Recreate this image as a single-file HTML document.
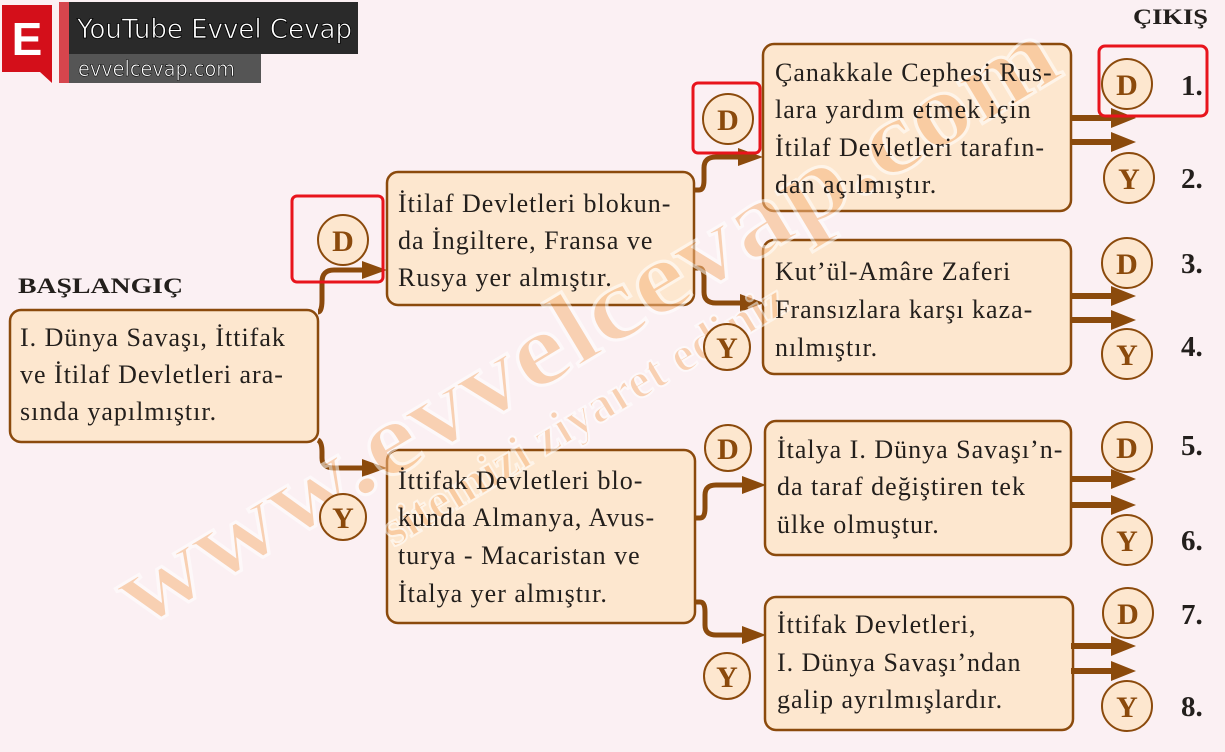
<!DOCTYPE html>
<html><head><meta charset="utf-8"><style>
html,body{margin:0;padding:0;background:#fbf0f3;}
svg{display:block}
.t{font-family:"Liberation Serif",serif;font-size:26px;letter-spacing:1px;fill:#231f1c}
.c{font-family:"Liberation Serif",serif;font-size:30px;font-weight:bold;fill:#8b4a0c;text-anchor:middle}
.n{font-family:"Liberation Serif",serif;font-size:29px;font-weight:bold;fill:#231f1c}
</style></head><body>
<svg width="1225" height="752" viewBox="0 0 1225 752" xmlns="http://www.w3.org/2000/svg">
<rect width="1225" height="752" fill="#fbf0f3"/>
<!-- logo -->
<polygon points="2,5 52,5 52,83 40,72 2,72" fill="#d40f1a"/>
<text x="27" y="55" font-family="Liberation Sans,sans-serif" font-size="46" font-weight="bold" fill="#fff" text-anchor="middle">E</text>
<rect x="59" y="2" width="10" height="81" fill="#d6454d"/>
<rect x="69" y="2" width="289" height="52" fill="#2a2a2a"/>
<rect x="69" y="54" width="192" height="29" fill="#555"/>
<text x="77" y="38" font-family="DejaVu Sans,sans-serif" font-size="27" fill="#fff" stroke="#000" stroke-width="0.8" textLength="275" lengthAdjust="spacingAndGlyphs">YouTube Evvel Cevap</text>
<text x="78" y="76" font-family="DejaVu Sans,sans-serif" font-size="21" fill="#fff" stroke="#000" stroke-width="0.6" textLength="157" lengthAdjust="spacingAndGlyphs">evvelcevap.com</text>

<g fill="#fde7cf" stroke="#8b4a0c" stroke-width="2.5">
<rect x="10" y="310" width="308" height="132" rx="11"/>
<rect x="387" y="172" width="307" height="133" rx="11"/>
<rect x="387" y="450" width="308" height="173" rx="11"/>
<rect x="763" y="44" width="308" height="167" rx="11"/>
<rect x="763" y="240" width="308" height="134" rx="11"/>
<rect x="765" y="421" width="306" height="134" rx="11"/>
<rect x="765" y="597" width="308" height="133" rx="11"/>
</g>

<!-- connectors -->
<g fill="none" stroke="#8b4a0c" stroke-width="5">
<path d="M318,312 Q322,312 322,300 L322,282 Q322,270 334,270 L364,270"/>
<path d="M318,440 Q322,442 322,452 L322,458 Q322,468 334,468 L364,468"/>
<path d="M694,190 L699,190 Q704,190 704,180 L704,168 Q704,157 716,157 L740,157"/>
<path d="M694,268 L699,268 Q704,268 704,278 L704,292 Q704,303 716,303 L742,303"/>
<path d="M695,518 L700,518 Q705,518 705,508 L705,495 Q705,485 716,485 L744,485"/>
<path d="M695,602 L700,602 Q705,602 705,612 L705,625 Q705,635 716,635 L744,635"/>
</g>
<g stroke="#8b4a0c" stroke-width="6">
<line x1="1071" y1="118" x2="1114" y2="118"/><line x1="1071" y1="142" x2="1114" y2="142"/>
<line x1="1071" y1="296" x2="1114" y2="296"/><line x1="1071" y1="320" x2="1114" y2="320"/>
<line x1="1071" y1="479" x2="1114" y2="479"/><line x1="1071" y1="505" x2="1114" y2="505"/>
<line x1="1071" y1="646" x2="1114" y2="646"/><line x1="1071" y1="671" x2="1114" y2="671"/>
</g>
<g fill="#8b4a0c">
<polygon points="362,261 387,270 362,279"/>
<polygon points="362,459 387,468 362,477"/>
<polygon points="738,148 763,157 738,166"/>
<polygon points="740,294 764,303 740,312"/>
<polygon points="742,476 766,485 742,494"/>
<polygon points="742,626 766,635 742,644"/>
<polygon points="1111,108 1136,118 1111,128"/><polygon points="1111,132 1136,142 1111,152"/>
<polygon points="1111,286 1136,296 1111,306"/><polygon points="1111,310 1136,320 1111,330"/>
<polygon points="1111,469 1136,479 1111,489"/><polygon points="1111,495 1136,505 1111,515"/>
<polygon points="1111,636 1136,646 1111,656"/><polygon points="1111,661 1136,671 1111,681"/>
</g>

<!-- watermark -->
<g transform="translate(140,630) rotate(-31)" opacity="0.55">
<text x="0" y="0" font-family="Liberation Serif,serif" font-size="105" font-weight="bold" fill="#f6b67e" stroke="#fff" stroke-width="3" textLength="1080" lengthAdjust="spacingAndGlyphs">www.evvelcevap.com</text>
<text x="260" y="60" font-family="Liberation Serif,serif" font-size="50" font-weight="bold" fill="#f6b67e" stroke="#fff" stroke-width="2">sitemizi ziyaret ediniz</text>
</g>

<!-- texts -->
<text x="18" y="293" font-family="Liberation Serif,serif" font-size="22" font-weight="bold" fill="#231f1c" textLength="165" lengthAdjust="spacingAndGlyphs">BAŞLANGIÇ</text>
<text x="1133" y="24" font-family="Liberation Serif,serif" font-size="22" font-weight="bold" fill="#231f1c" textLength="75" lengthAdjust="spacingAndGlyphs">ÇIKIŞ</text>
<g class="t">
<text x="20" y="346">I. Dünya Savaşı, İttifak</text>
<text x="20" y="383">ve İtilaf Devletleri ara-</text>
<text x="20" y="420">sında yapılmıştır.</text>
<text x="398" y="212">İtilaf Devletleri blokun-</text>
<text x="398" y="249">da İngiltere, Fransa ve</text>
<text x="398" y="286">Rusya yer almıştır.</text>
<text x="398" y="489">İttifak Devletleri blo-</text>
<text x="398" y="526">kunda Almanya, Avus-</text>
<text x="398" y="564">turya - Macaristan ve</text>
<text x="398" y="602">İtalya yer almıştır.</text>
<text x="775" y="81">Çanakkale Cephesi Rus-</text>
<text x="775" y="118">lara yardım etmek için</text>
<text x="775" y="156">İtilaf Devletleri tarafın-</text>
<text x="775" y="193">dan açılmıştır.</text>
<text x="775" y="280">Kut’ül-Amâre Zaferi</text>
<text x="775" y="318">Fransızlara karşı kaza-</text>
<text x="775" y="356">nılmıştır.</text>
<text x="777" y="458">İtalya I. Dünya Savaşı’n-</text>
<text x="777" y="495">da taraf değiştiren tek</text>
<text x="777" y="533">ülke olmuştur.</text>
<text x="777" y="633">İttifak Devletleri,</text>
<text x="777" y="671">I. Dünya Savaşı’ndan</text>
<text x="777" y="708">galip ayrılmışlardır.</text>
</g>

<!-- circles -->
<g fill="#fde7cf" stroke="#8b4a0c" stroke-width="2">
<circle cx="343" cy="240" r="25"/><circle cx="343" cy="517" r="23"/>
<circle cx="728" cy="119" r="25"/><circle cx="727" cy="347" r="23"/>
<circle cx="728" cy="448" r="23"/><circle cx="727" cy="676" r="23"/>
<circle cx="1127" cy="84" r="25"/><circle cx="1129" cy="178" r="25"/>
<circle cx="1127" cy="263" r="25"/><circle cx="1127" cy="354" r="25"/>
<circle cx="1127" cy="447" r="25"/><circle cx="1127" cy="540" r="25"/>
<circle cx="1128" cy="613" r="25"/><circle cx="1127" cy="706" r="25"/>
</g>
<g class="c">
<text x="343" y="251">D</text><text x="343" y="528">Y</text>
<text x="728" y="130">D</text><text x="727" y="358">Y</text>
<text x="728" y="459">D</text><text x="727" y="687">Y</text>
<text x="1127" y="95">D</text><text x="1129" y="189">Y</text>
<text x="1127" y="274">D</text><text x="1127" y="365">Y</text>
<text x="1127" y="458">D</text><text x="1127" y="551">Y</text>
<text x="1128" y="624">D</text><text x="1127" y="717">Y</text>
</g>
<g class="n">
<text x="1181" y="95">1.</text><text x="1181" y="188">2.</text>
<text x="1181" y="273">3.</text><text x="1181" y="356">4.</text>
<text x="1181" y="455">5.</text><text x="1181" y="550">6.</text>
<text x="1181" y="624">7.</text><text x="1181" y="716">8.</text>
</g>

<!-- red highlights -->
<g fill="none" stroke="#e8141c" stroke-width="3">
<rect x="292" y="196" width="91" height="86" rx="5"/>
<rect x="693" y="83" width="67" height="70" rx="5"/>
<rect x="1099" y="46" width="108" height="70" rx="6"/>
</g>
</svg>
</body></html>
